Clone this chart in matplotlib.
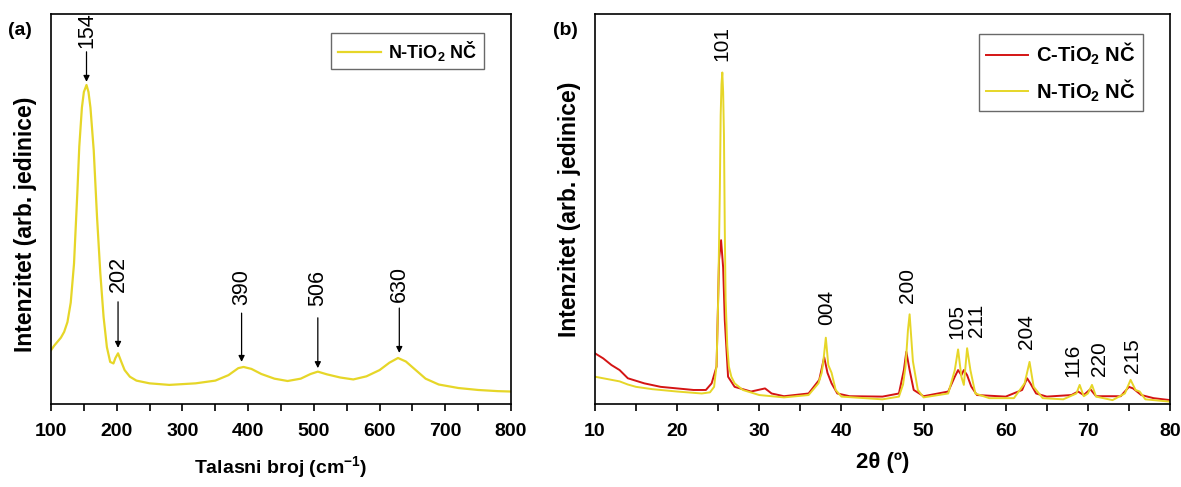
import matplotlib.pyplot as plt

plt.rcParams['font.family'] = ['Liberation Sans', 'DejaVu Sans']
plt.rcParams['mathtext.fontset'] = 'custom'
plt.rcParams['mathtext.rm'] = 'Liberation Sans:bold'
plt.rcParams['mathtext.bf'] = 'Liberation Sans:bold'

yellow = '#e6d628'
red = '#d41414'

# Raman (a): wavenumber vs intensity (fraction of axis height)
raman_x = [100, 105, 110, 115, 120, 125, 130, 135, 140, 143, 147, 150, 154, 157, 160,
           165, 170, 175, 180, 185, 190, 195, 198, 202, 207, 212, 220, 230, 250, 280,
           320, 350, 370, 385, 393, 405, 420, 440, 460, 480, 495, 506, 520, 540, 560,
           580, 600, 615, 628, 640, 655, 670, 690, 720, 750, 780, 800]
raman_y = [0.138, 0.15, 0.16, 0.17, 0.185, 0.21, 0.26, 0.36, 0.54, 0.66, 0.76, 0.80,
           0.818, 0.80, 0.76, 0.65, 0.48, 0.336, 0.223, 0.146, 0.108, 0.104, 0.118,
           0.13, 0.108, 0.087, 0.07, 0.06, 0.053, 0.049, 0.053, 0.06, 0.074, 0.092,
           0.095, 0.09, 0.077, 0.065, 0.059, 0.065, 0.077, 0.083, 0.076, 0.068, 0.063,
           0.071, 0.087, 0.106, 0.118, 0.109, 0.087, 0.065, 0.05, 0.041, 0.036, 0.033,
           0.032]
raman_peaks = [154, 202, 390, 506, 630]
raman_text_y = [0.913, 0.287, 0.254, 0.251, 0.262]
raman_arrow_top = [0.903, 0.262, 0.233, 0.221, 0.246]
raman_arrow_tip = [0.826, 0.144, 0.108, 0.092, 0.131]

# XRD (b): 2theta vs intensity
n_x = [10, 11, 12, 13, 14, 15, 17, 20, 23, 24, 24.5, 24.8, 25.0, 25.2, 25.3, 25.4,
       25.5, 25.6, 25.7, 25.8, 25.9, 26.1, 26.3, 26.6, 27, 28, 30, 33, 36, 37.2, 37.6,
       37.8, 38.1, 38.4, 38.7, 38.8, 39.3, 40, 45, 47, 47.5, 47.8, 48.1, 48.3, 48.5,
       48.7, 49.3, 50, 53, 53.8, 54.2, 54.6, 54.9, 55.3, 55.7, 56.3, 58, 61, 62.3,
       62.9, 63.4, 64.5, 67, 68.6, 69.0, 69.5, 70.0, 70.5, 71, 73, 74.5, 75.2, 75.8,
       76.3, 77, 80]
n_y = [0.07, 0.066, 0.062, 0.058, 0.05, 0.044, 0.038, 0.032, 0.027, 0.03, 0.044, 0.1,
       0.27, 0.55, 0.74, 0.82, 0.85, 0.80, 0.69, 0.45, 0.27, 0.15, 0.096, 0.07, 0.053,
       0.036, 0.023, 0.017, 0.023, 0.053, 0.08, 0.11, 0.17, 0.10, 0.085, 0.08, 0.036,
       0.019, 0.012, 0.019, 0.05, 0.096, 0.19, 0.23, 0.17, 0.11, 0.036, 0.017, 0.027,
       0.087, 0.14, 0.07, 0.049, 0.143, 0.087, 0.027, 0.015, 0.015, 0.053, 0.108,
       0.044, 0.015, 0.012, 0.027, 0.049, 0.02, 0.027, 0.049, 0.019, 0.01, 0.027,
       0.062, 0.036, 0.032, 0.012, 0.006]
c_x = [10, 11, 12, 13, 14, 16, 18, 20, 22, 23.5, 24.2, 24.8, 25.1, 25.35, 25.6, 25.8,
       26.2, 27, 29, 30.7, 31.5, 33, 36, 37.3, 37.9, 38.3, 38.8, 39.5, 41, 45, 47, 47.6,
       47.9, 48.3, 48.8, 50, 53, 53.8, 54.2, 54.6, 54.9, 55.3, 55.8, 56.5, 60, 62, 62.6,
       63, 63.7, 65, 68, 68.8, 69.5, 70.3, 71, 74, 75, 75.5, 76.5, 78, 80]
c_y = [0.13, 0.117, 0.10, 0.087, 0.066, 0.053, 0.044, 0.040, 0.036, 0.036, 0.053, 0.096,
       0.37, 0.42, 0.35, 0.215, 0.07, 0.044, 0.032, 0.04, 0.027, 0.02, 0.027, 0.062,
       0.12, 0.08, 0.053, 0.027, 0.02, 0.019, 0.027, 0.087, 0.134, 0.087, 0.036, 0.02,
       0.032, 0.07, 0.087, 0.074, 0.087, 0.074, 0.045, 0.023, 0.019, 0.036, 0.066, 0.053,
       0.027, 0.019, 0.023, 0.032, 0.023, 0.038, 0.02, 0.02, 0.044, 0.04, 0.023, 0.015,
       0.01]
hkl = ['101', '004', '200', '105', '211', '204', '116', '220', '215']
hkl_x = [25.5, 38.2, 48.1, 54.0, 56.4, 62.5, 68.2, 71.4, 75.4]
hkl_y = [0.88, 0.203, 0.258, 0.166, 0.171, 0.14, 0.07, 0.072, 0.08]

fig = plt.figure(figsize=(11.81, 4.87), dpi=100)
ax1 = fig.add_axes([0.0432, 0.1704, 0.3895, 0.8009])
ax2 = fig.add_axes([0.5038, 0.1704, 0.4869, 0.8009])

for ax in (ax1, ax2):
    for sp in ax.spines.values():
        sp.set_linewidth(1.2)
    ax.set_yticks([])
    ax.set_ylim(0, 1)
    ax.tick_params(axis='x', which='both', direction='out', length=5, width=1.2,
                   labelsize=14, pad=9)
    for lab in ax.get_xticklabels():
        lab.set_fontweight('bold')
    ax.set_ylabel('Intenzitet (arb. jedinice)', fontsize=16.5, fontweight='bold')
ax1.yaxis.set_label_coords(-0.03, 0.46)
ax2.yaxis.set_label_coords(-0.024, 0.5)

# (a)
ax1.plot(raman_x, raman_y, color=yellow, lw=1.6, label=r'N-TiO$_{2}$ NČ')
ax1.set_xlim(100, 800)
ax1.set_xticks(range(100, 801, 100))
ax1.set_xticks(range(150, 800, 100), minor=True)
ax1.set_xlabel('Talasni broj (cm$^{-1}$)', fontsize=14, fontweight='bold', labelpad=10)
for p, ty, at, tip in zip(raman_peaks, raman_text_y, raman_arrow_top, raman_arrow_tip):
    ax1.text(p, ty, str(p), rotation=90, ha='center', va='bottom', fontsize=15.5)
    ax1.annotate('', xy=(p, tip), xytext=(p, at),
                 arrowprops=dict(arrowstyle='-|>', color='black', lw=0.9,
                                 mutation_scale=9, shrinkA=0, shrinkB=0))
leg1 = ax1.legend(loc='upper right', bbox_to_anchor=(0.96, 0.975), fancybox=False,
                  edgecolor='#444444', prop={'weight': 'bold', 'size': 13},
                  handlelength=2.4, handletextpad=0.4, borderpad=0.35)
leg1.get_frame().set_linewidth(1.0)

# (b)
ax2.plot(c_x, c_y, color=red, lw=1.4, label=r'C-TiO$_{2}$ NČ')
ax2.plot(n_x, n_y, color=yellow, lw=1.4, label=r'N-TiO$_{2}$ NČ')
ax2.set_xlim(10, 80)
ax2.set_xticks(range(10, 81, 10))
ax2.set_xticks(range(15, 80, 10), minor=True)
ax2.set_xlabel('2θ (º)', fontsize=16, fontweight='bold', labelpad=8)
for t, x, y in zip(hkl, hkl_x, hkl_y):
    ax2.text(x, y, t, rotation=90, ha='center', va='bottom', fontsize=15)
leg2 = ax2.legend(loc='upper right', bbox_to_anchor=(0.97, 0.975), fancybox=False,
                  edgecolor='#444444', prop={'weight': 'bold', 'size': 14.5},
                  handlelength=2.1, handletextpad=0.4, borderpad=0.35)
leg2.get_frame().set_linewidth(1.0)

fig.text(0.007, 0.938, '(a)', fontsize=14, fontweight='bold', va='center')
fig.text(0.468, 0.938, '(b)', fontsize=14, fontweight='bold', va='center')

fig.savefig('out.png', dpi=100)
